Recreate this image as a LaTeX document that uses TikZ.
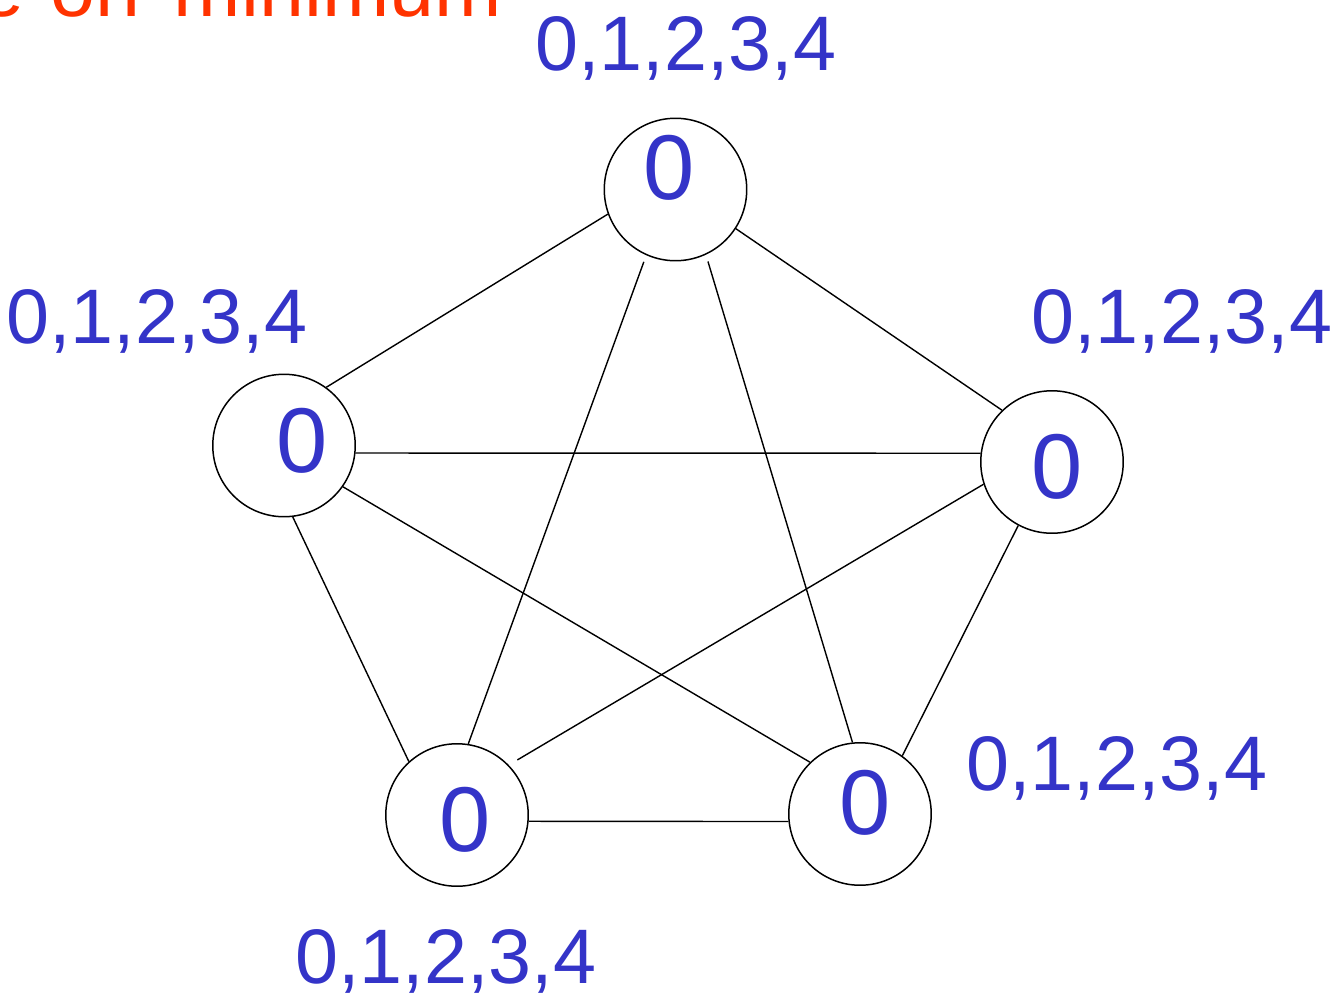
\documentclass[tikz,border=0pt]{standalone}
\usepackage{fontspec}
\setmainfont{Liberation Sans}
\definecolor{numblue}{RGB}{52,52,200}
\definecolor{titlered}{RGB}{255,51,0}
\begin{document}
\begin{tikzpicture}[x=0.02cm,y=-0.02cm,
  vertex/.style={circle,draw=black,line width=0.85pt,minimum size=2.85cm,inner sep=0pt},
  val/.style={text=numblue,inner sep=0pt,anchor=base,font=\fontsize{52.4}{60}\selectfont},
  dom/.style={text=numblue,inner sep=0pt,anchor=base west,font=\fontsize{44}{52}\selectfont},
  ttl/.style={text=titlered,inner sep=0pt,font=\fontsize{46}{52}\selectfont},
  edge/.style={draw=black,line width=0.8pt}]
\useasboundingbox (0,0) rectangle (1335,1001);
\clip (0,0) rectangle (1335,1001);
% partial title, cut off at the top edge as in the reference
\node[ttl,anchor=base east] (ttlA) at (25,16) {e};
\node[ttl,anchor=base west] (ttlB) at (50,16) {on};
\node[ttl,anchor=base east] (ttlC) at (502,16) {minimum};
% vertices
\node[vertex] (T) at (675.5,189.5) {};
\node[vertex] (L) at (284,445.5) {};
\node[vertex] (R) at (1052,462) {};
\node[vertex] (BL) at (457,815) {};
\node[vertex] (BR) at (860,814) {};
% values
\node[val] (vT) at (669.5,199) {0};
\node[val] (vL) at (302.5,472) {0};
\node[val] (vR) at (1057.5,498) {0};
\node[val] (vBL) at (465,851) {0};
\node[val] (vBR) at (865.5,834) {0};
% domains
\node[dom] (dT) at (535,70) {0,1,2,3,4};
\node[dom] (dL) at (6,343) {0,1,2,3,4};
\node[dom] (dR) at (1031,343) {0,1,2,3,4};
\node[dom] (dBR) at (966,790) {0,1,2,3,4};
\node[dom] (dBL) at (295,983) {0,1,2,3,4};
% edges
\draw[edge] (T.200) -- (L.54);
\draw[edge,shorten <=0.14cm] (T.246) -- (BL.81);
\draw[edge,shorten <=0.14cm] (T.295) -- (BR.96);
\draw[edge] (T.327) -- (R.134.5);
\draw[edge] (L.354) -- (R.173);
\draw[edge] (L.325) -- (BR.134.5);
\draw[edge] (L.277) -- (BL.132);
\draw[edge,shorten >=0.2cm] (R.198) -- (BL.44);
\draw[edge] (R.242) -- (BR.54);
\draw[edge] (BL.355) -- (BR.186);
\end{tikzpicture}
\end{document}
